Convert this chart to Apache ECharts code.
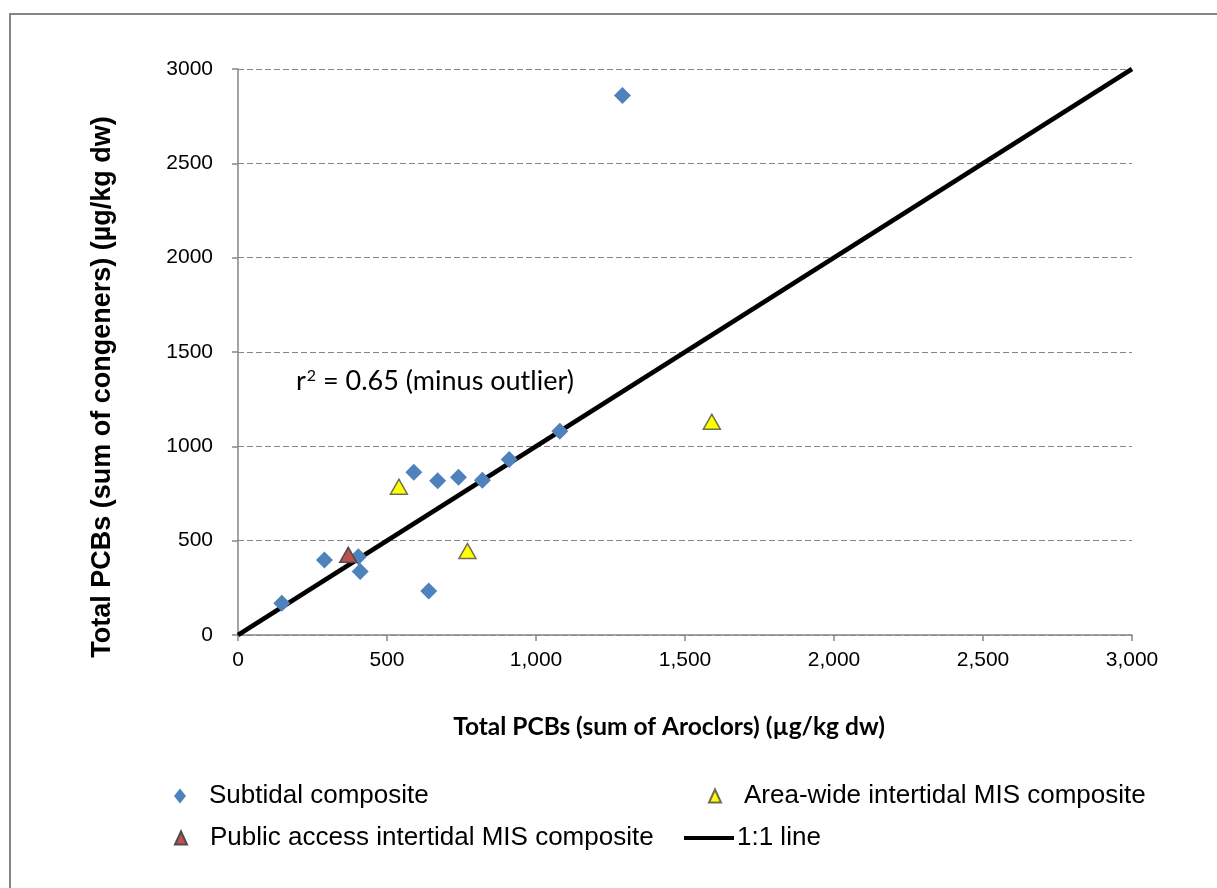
<!DOCTYPE html>
<html>
<head>
<meta charset="utf-8">
<title>Total PCBs: congeners vs Aroclors</title>
<script src="https://cdn.jsdelivr.net/npm/echarts@6/dist/echarts.min.js"></script>
<style>
  html, body { margin: 0; padding: 0; background: #fff; }
  #chart { width: 1217px; height: 888px; }
</style>
</head>
<body>
<div id="chart"></div>
<script>
// Total PCBs (sum of Aroclors, x) vs total PCBs (sum of congeners, y), µg/kg dw
const subtidal = [
  [147, 168], [290, 397], [404, 415], [410, 336], [590, 862], [640, 233],
  [670, 818], [740, 836], [820, 820], [910, 930], [1080, 1080], [1290, 2860]
];
const areaWide = [[540, 786], [770, 445], [1590, 1130]];
const publicAccess = [[370, 425]];
const oneToOne = [[0, 0], [3000, 3000]];

const seriesNames = [
  'Subtidal composite',
  'Area-wide intertidal MIS composite',
  'Public access intertidal MIS composite',
  '1:1 line'
];
const xTitle = 'Total PCBs (sum of Aroclors) (µg/kg dw)';
const yTitle = 'Total PCBs (sum of congeners) (µg/kg dw)';
const axisMin = 0, axisMax = 3000, axisStep = 500;

const chart = echarts.init(document.getElementById('chart'));
const AXIS_GRAY = '#868686';
const FONT = 'Liberation Sans, Arial, sans-serif';
const CAL = 'Lato, Open Sans, sans-serif';
const LEGEND_FS = 26;

function legendAt(name, icon, left, centerY, w, h, textPad) {
  return {
    data: [{ name: name, icon: icon }],
    left: left, top: centerY - LEGEND_FS / 2, padding: 0,
    itemWidth: w, itemHeight: h, symbolKeepAspect: false,
    selectedMode: false,
    textStyle: { fontFamily: FONT, fontSize: LEGEND_FS, color: '#000', padding: [0, 0, 0, textPad] }
  };
}

chart.setOption({
  animation: false,
  backgroundColor: '#fff',
  grid: { left: 238, right: 85, top: 69, bottom: 253 },
  xAxis: {
    type: 'value', min: axisMin, max: axisMax, interval: axisStep,
    axisLine: { show: true, lineStyle: { color: AXIS_GRAY, width: 1.5 } },
    axisTick: { show: true, length: 6, lineStyle: { color: AXIS_GRAY, width: 1.5 } },
    splitLine: { show: false },
    axisLabel: {
      margin: 15, fontFamily: FONT, fontSize: 21, color: '#000',
      formatter: v => String(v).replace(/\B(?=(\d{3})+(?!\d))/g, ',')
    }
  },
  yAxis: {
    type: 'value', min: axisMin, max: axisMax, interval: axisStep,
    axisLine: { show: true, onZero: false, lineStyle: { color: AXIS_GRAY, width: 1.5 } },
    axisTick: { show: true, length: 6, lineStyle: { color: AXIS_GRAY, width: 1.5 } },
    splitLine: { show: true, lineStyle: { color: AXIS_GRAY, width: 1.2, type: [6, 3] } },
    axisLabel: {
      margin: 25, fontFamily: FONT, fontSize: 21, color: '#000',
      formatter: v => String(v)
    }
  },
  legend: [
    legendAt(seriesNames[0], 'diamond', 174, 796, 12, 15, 18),
    legendAt(seriesNames[1], 'triangle', 708, 796, 12, 13, 18),
    legendAt(seriesNames[2], 'triangle', 174, 838, 12, 13, 18),
    legendAt(seriesNames[3], 'rect', 684, 838, 50, 4, -2)
  ],
  series: [
    {
      name: seriesNames[3], type: 'line', data: oneToOne,
      symbol: 'none', z: 1,
      lineStyle: { color: '#000', width: 4.5 },
      itemStyle: { color: '#000' }
    },
    {
      name: seriesNames[0], type: 'scatter', data: subtidal,
      symbol: 'diamond', symbolSize: [17, 17], z: 3,
      itemStyle: { color: '#4F81BD', opacity: 1 }
    },
    {
      name: seriesNames[1], type: 'scatter', data: areaWide,
      symbol: 'triangle', symbolSize: [17, 15], z: 4,
      itemStyle: { color: '#FFFF00', borderColor: '#6E6E50', borderWidth: 1.5, opacity: 1 }
    },
    {
      name: seriesNames[2], type: 'scatter', data: publicAccess,
      symbol: 'triangle', symbolSize: [17, 15], z: 5,
      itemStyle: { color: '#C0504D', borderColor: '#4D4D4D', borderWidth: 1.5, opacity: 1 }
    }
  ],
  graphic: [
    {
      type: 'rect', silent: true, z: -1,
      shape: { x: 10, y: 14, width: 1400, height: 1000 },
      style: { fill: 'none', stroke: AXIS_GRAY, lineWidth: 2 }
    },
    {
      type: 'text', x: 296, y: 381,
      style: {
        text: '{b|r}{s|2}{b| = 0.65 (minus outlier)}',
        verticalAlign: 'middle',
        rich: {
          b: { fontFamily: CAL, fontSize: 27, color: '#000' },
          s: { fontFamily: CAL, fontSize: 16, color: '#000', verticalAlign: 'top', padding: [0, 0, 10, 1] }
        }
      }
    },
    {
      type: 'text', x: 669, y: 727,
      style: {
        text: xTitle, align: 'center', verticalAlign: 'middle',
        fontFamily: CAL, fontWeight: 'bold', fontSize: 24.5, fill: '#000'
      }
    },
    {
      type: 'text', x: 103, y: 387, rotation: Math.PI / 2,
      style: {
        text: yTitle, align: 'center', verticalAlign: 'middle',
        fontFamily: FONT, fontWeight: 'bold', fontSize: 27, fill: '#000'
      }
    }
  ]
});
</script>
</body>
</html>
